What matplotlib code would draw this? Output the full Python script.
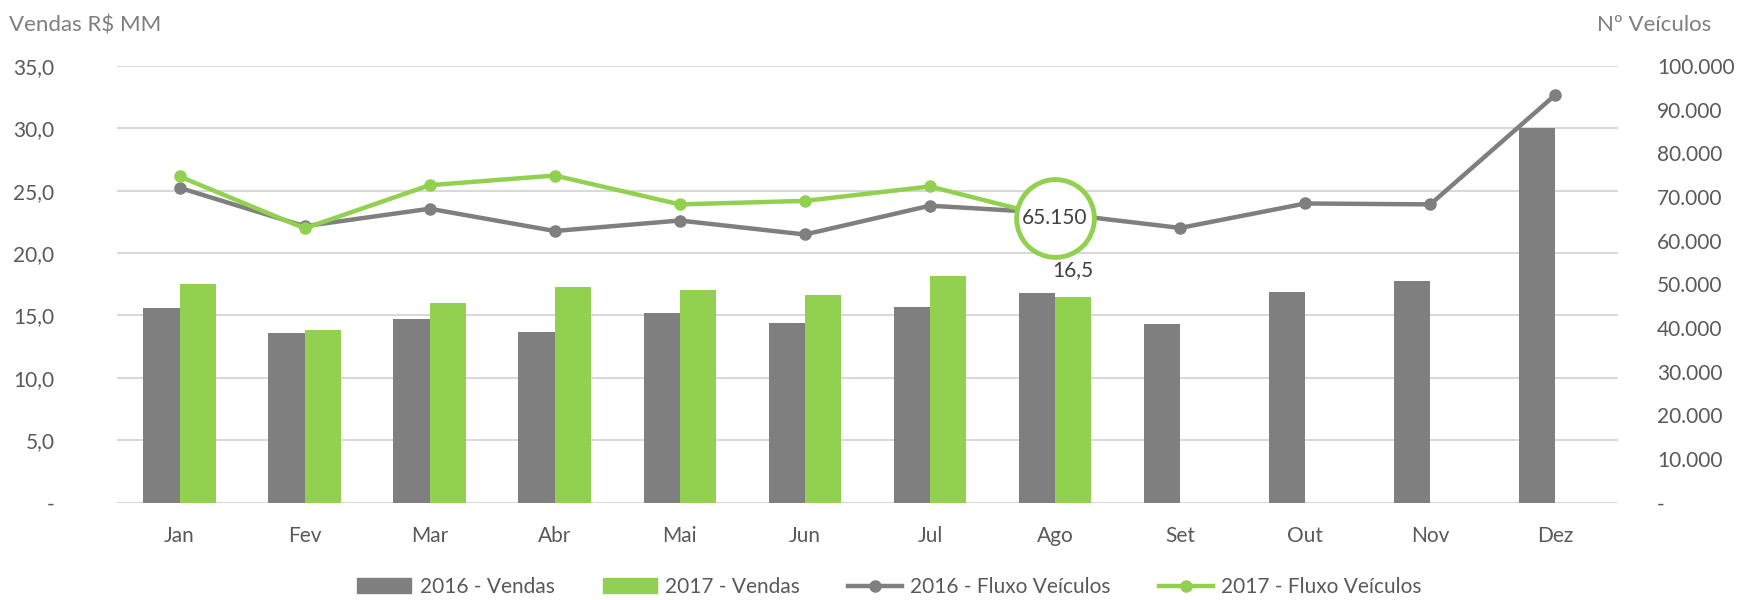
import matplotlib.pyplot as plt
import numpy as np
from matplotlib.lines import Line2D
from matplotlib.patches import Patch
from matplotlib.ticker import FuncFormatter

plt.rcParams['font.family'] = ['Lato', 'DejaVu Sans']

meses = ['Jan', 'Fev', 'Mar', 'Abr', 'Mai', 'Jun', 'Jul', 'Ago', 'Set', 'Out', 'Nov', 'Dez']
vendas_2016 = [15.6, 13.6, 14.7, 13.7, 15.2, 14.4, 15.7, 16.8, 14.3, 16.9, 17.8, 30.0]
vendas_2017 = [17.5, 13.8, 16.0, 17.3, 17.0, 16.6, 18.2, 16.5]
fluxo_2016 = [72100, 63300, 67300, 62200, 64600, 61400, 68000, 66300, 62900, 68500, 68300, 93400]
fluxo_2017 = [74700, 62800, 72700, 74900, 68300, 69100, 72400, 65150]

cinza = '#7f7f7f'
verde = '#92d050'
texto = '#595959'

fig = plt.figure(figsize=(17.51, 6.0), dpi=100)
ax = fig.add_axes([0.0668, 0.1625, 0.8572, 0.7275])
ax2 = ax.twinx()

x = np.arange(len(meses))
x17 = np.arange(len(vendas_2017))
w = 0.29
ax.bar(x - w / 2, vendas_2016, w, color=cinza, zorder=2)
ax.bar(x17 + w / 2, vendas_2017, w, color=verde, zorder=2)

ax.set_ylim(0, 35)
ax.set_yticks(np.arange(0, 36, 5))
ax.yaxis.set_major_formatter(FuncFormatter(lambda v, p: '-' if v == 0 else f'{v:.1f}'.replace('.', ',')))
ax.set_xlim(-0.5, 11.5)
ax.set_xticks(x)
ax.set_xticklabels(meses)
ax.grid(axis='y', color='#d9d9d9', linewidth=1.5, zorder=0)
ax.set_axisbelow(True)

ax2.plot(x, fluxo_2016, color=cinza, lw=3.2, marker='o', ms=8, zorder=3)
ax2.plot(x17, fluxo_2017, color=verde, lw=3.2, marker='o', ms=8, zorder=4)
ax2.set_ylim(0, 100000)
ax2.set_yticks(np.arange(0, 100001, 10000))
ax2.yaxis.set_major_formatter(FuncFormatter(lambda v, p: '-' if v == 0 else f'{int(v):,}'.replace(',', '.')))

# destaque no ultimo ponto de 2017
ax2.plot(x17[-1], fluxo_2017[-1], marker='o', ms=56, mfc='white', mec=verde, mew=3.5, zorder=5)
ax2.text(x17[-1], fluxo_2017[-1], f'{fluxo_2017[-1]:,}'.replace(',', '.'), ha='center', va='center',
         fontsize=15, color='#404040', zorder=6)
ax.text(x17[-1] + w / 2, vendas_2017[-1] + 1.3, f'{vendas_2017[-1]:.1f}'.replace('.', ','),
        ha='center', va='bottom', fontsize=15, color='#404040', zorder=6)

for a in (ax, ax2):
    for s in a.spines.values():
        s.set_visible(False)
    a.tick_params(length=0, labelsize=15, labelcolor=texto)
ax.tick_params(axis='y', pad=45)
ax2.tick_params(axis='y', pad=28)
ax.tick_params(axis='x', pad=17)

fig.text(0.005, 0.958, 'Vendas R$ MM', fontsize=16, color=cinza, va='center')
fig.text(0.912, 0.958, 'Nº Veículos', fontsize=16, color=cinza, va='center')

handles = [Patch(color=cinza), Patch(color=verde),
           Line2D([], [], color=cinza, lw=3.2, marker='o', ms=8),
           Line2D([], [], color=verde, lw=3.2, marker='o', ms=8)]
labels = ['2016 - Vendas', '2017 - Vendas', '2016 - Fluxo Veículos', '2017 - Fluxo Veículos']
leg = fig.legend(handles, labels, loc='center', bbox_to_anchor=(0.508, 0.022), ncol=4, frameon=False,
                 fontsize=15, handlelength=2.6, columnspacing=2.3, handletextpad=0.4)
for t in leg.get_texts():
    t.set_color(texto)

fig.savefig('out.png', dpi=100)
